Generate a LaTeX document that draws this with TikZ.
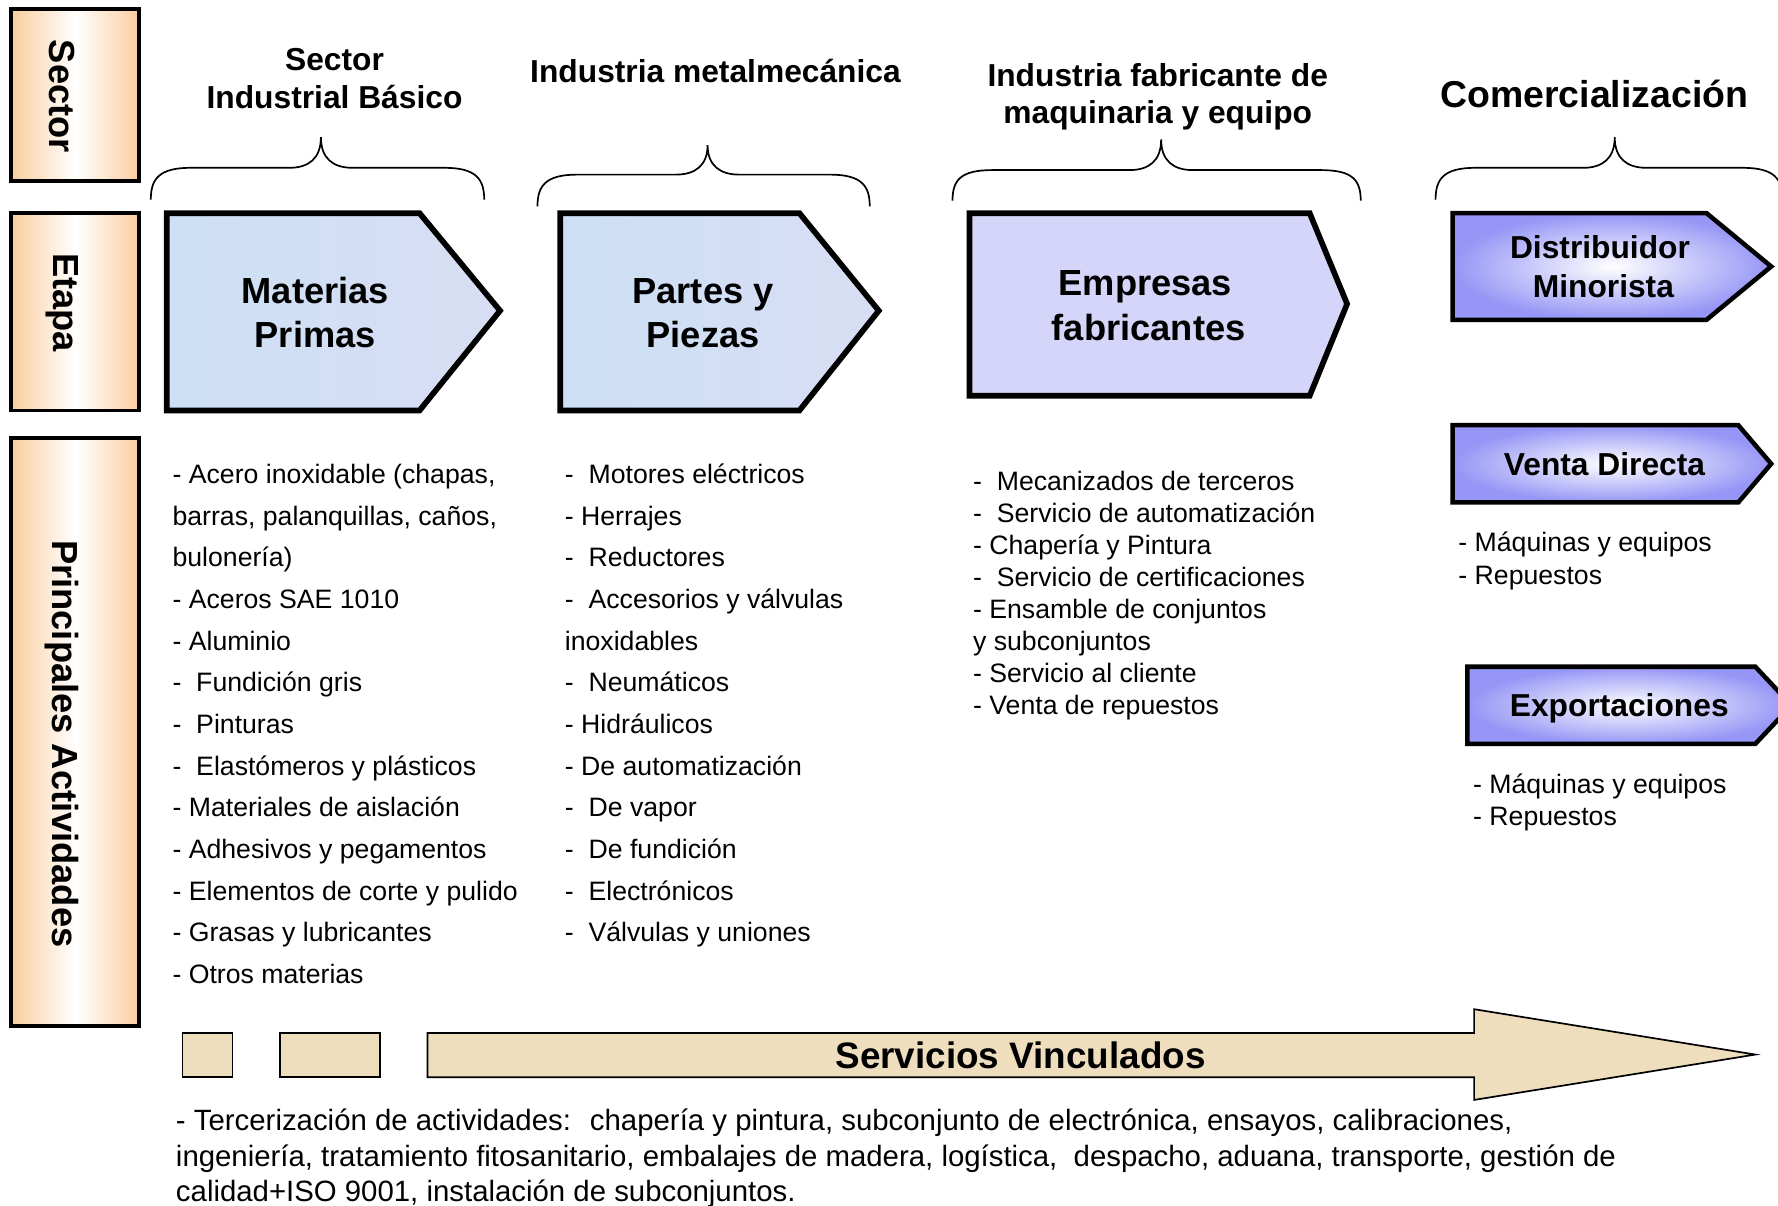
\documentclass[tikz,border=0pt]{standalone}
\usepackage{fontspec}
\setmainfont{Liberation Sans}
\definecolor{lblorange}{RGB}{250,205,158}
\definecolor{mpA}{RGB}{204,223,244}
\definecolor{mpB}{RGB}{216,222,244}
\definecolor{empl}{RGB}{213,213,250}
\definecolor{comblue}{RGB}{150,150,246}
\definecolor{tanc}{RGB}{238,222,190}
\tikzset{
  lbl/.style={draw=black, line width=3.5pt, left color=lblorange, right color=lblorange, middle color=white},
  vlab/.style={font=\fontsize{32}{38}\selectfont\bfseries, rotate=-90, inner sep=0pt},
  stage/.style={draw=black, line width=5pt, line join=miter},
  comm/.style={draw=black, line width=4pt, line join=miter, inner color=white, outer color=comblue},
  hdr/.style={font=\fontsize{28}{34}\selectfont\bfseries, anchor=base, inner sep=0pt},
  ttl/.style={font=\fontsize{32}{38}\selectfont\bfseries, anchor=base, inner sep=0pt},
  sub/.style={font=\fontsize{28}{34}\selectfont\bfseries, anchor=base, inner sep=0pt},
  body/.style={font=\fontsize{23.5}{28}\selectfont, anchor=base west, inner sep=0pt},
  foot/.style={font=\fontsize{25.9}{31}\selectfont, anchor=base west, inner sep=0pt},
  bracepath/.style={draw=black, line width=1.5pt},
  serv/.style={draw=black, line width=1.5pt, fill=tanc, line join=miter},
}
\begin{document}
\begin{tikzpicture}[x=1pt, y=-1pt]
\useasboundingbox (0,0) rectangle (1568,1063);
\clip (0,0) rectangle (1568,1063);
\fill[white] (0,0) rectangle (1568,1063);

% row labels
\draw[lbl] (10,8) rectangle (123,160);
\node[vlab] (lsector) at (55,85) {Sector};
\draw[lbl] (10,188) rectangle (123,362);
\node[vlab] (letapa) at (55,267) {Etapa};
\draw[lbl] (10,386) rectangle (123,905);
\node[vlab] (lpa) at (55,656) {Principales Actividades};

% sector headers
\node[hdr] (h1a) at (295,62) {Sector};
\node[hdr] (h1b) at (295,96) {Industrial Básico};
\node[hdr] (h2) at (631,73) {Industria metalmecánica};
\node[hdr] (h3a) at (1021,76) {Industria fabricante de};
\node[hdr] (h3b) at (1021,109) {maquinaria y equipo};
\node[font=\fontsize{33}{38}\selectfont\bfseries, anchor=base, inner sep=0pt] (h4) at (1406,95) {Comercialización};

% braces
\draw[bracepath] (133,176) .. controls (133,158) and (140,148) .. (168,148) -- (255,148) .. controls (272,148) and (283,140) .. (283,121) .. controls (283,140) and (294,148) .. (311,148) -- (392,148) .. controls (420,148) and (427,158) .. (427,176);
\draw[bracepath] (474,182) .. controls (474,164) and (481,154) .. (509,154) -- (596,154) .. controls (613,154) and (624,146) .. (624,128) .. controls (624,146) and (635,154) .. (652,154) -- (732,154) .. controls (760,154) and (767,164) .. (767,182);
\draw[bracepath] (840,177) .. controls (840,159) and (847,150) .. (875,150) -- (996,150) .. controls (1013,150) and (1024,142) .. (1024,123) .. controls (1024,142) and (1035,150) .. (1052,150) -- (1165,150) .. controls (1193,150) and (1200,159) .. (1200,177);
\draw[bracepath] (1266,176) .. controls (1266,158) and (1273,148) .. (1301,148) -- (1396,148) .. controls (1413,148) and (1424,140) .. (1424,121) .. controls (1424,140) and (1435,148) .. (1452,148) -- (1537,148) .. controls (1565,148) and (1572,158) .. (1572,176);

% stage arrows
\draw[stage, left color=mpA, right color=mpB] (147,188) -- (370,188) -- (441,274) -- (370,362) -- (147,362) -- cycle;
\node[ttl] (mp1) at (278,267.5) {Materias};
\node[ttl] (mp2) at (278,306.5) {Primas};
\draw[stage, left color=mpA, right color=mpB] (494,188) -- (705,188) -- (775,274) -- (705,362) -- (494,362) -- cycle;
\node[ttl] (pp1) at (620,267.5) {Partes y};
\node[ttl] (pp2) at (620,306.5) {Piezas};
\draw[stage, fill=empl] (855,188) -- (1155,188) -- (1188,268) -- (1155,349) -- (855,349) -- cycle;
\node[ttl] (ef1) at (1010,260.5) {Empresas};
\node[ttl] (ef2) at (1013,300.5) {fabricantes};

% commercialisation arrows
\draw[comm] (1281,188) -- (1505,188) -- (1562,235) -- (1505,282) -- (1281,282) -- cycle;
\node[sub] (dm1) at (1411,228) {Distribuidor};
\node[sub] (dm2) at (1414,262) {Minorista};
\draw[comm] (1281,375) -- (1533,375) -- (1562,409) -- (1533,443) -- (1281,443) -- cycle;
\node[sub] (vd) at (1415,419) {Venta Directa};
\draw[comm] (1294,588) -- (1548,588) -- (1580,622) -- (1548,656) -- (1294,656) -- cycle;
\node[sub] (ex) at (1428,632) {Exportaciones};

% lists
\foreach [count=\i from 0] \t in {{- Acero inoxidable (chapas,},{barras, palanquillas, caños,},{bulonería)},{- Aceros SAE 1010},{- Aluminio},{-~~Fundición gris},{-~~Pinturas},{-~~Elastómeros y plásticos},{- Materiales de aislación},{- Adhesivos y pegamentos},{- Elementos de corte y pulido},{- Grasas y lubricantes},{- Otros materias}}
  \node[body] (la\i) at (152,426.4+36.75*\i) {\t};
\foreach [count=\i from 0] \t in {{-~~Motores eléctricos},{- Herrajes},{-~~Reductores},{-~~Accesorios y válvulas},{inoxidables},{-~~Neumáticos},{- Hidráulicos},{- De automatización},{-~~De vapor},{-~~De fundición},{-~~Electrónicos},{-~~Válvulas y uniones}}
  \node[body] (lb\i) at (498,426.4+36.73*\i) {\t};
\foreach [count=\i from 0] \t in {{-~~Mecanizados de terceros},{-~~Servicio de automatización},{- Chapería y Pintura},{-~~Servicio de certificaciones},{- Ensamble de conjuntos},{y subconjuntos},{- Servicio al cliente},{- Venta de repuestos}}
  \node[body] (lc\i) at (858,432.4+28.3*\i) {\t};
\node[body] (vd1) at (1286,486.4) {- Máquinas y equipos};
\node[body] (vd2) at (1286,515.4) {- Repuestos};
\node[body] (ex1) at (1299,699.4) {- Máquinas y equipos};
\node[body] (ex2) at (1299,728.4) {- Repuestos};

% services
\draw[serv] (161,911) rectangle (205,950);
\draw[serv] (247,911) rectangle (335,950);
\draw[serv] (377,911) -- (1300,911) -- (1300,890) -- (1548,930) -- (1300,970) -- (1300,950) -- (377,950) -- cycle;
\node[font=\fontsize{32.5}{38}\selectfont\bfseries, anchor=base, inner sep=0pt] (sv) at (900,942.5) {Servicios Vinculados};
\node[foot] (bt1) at (155,997.3) {- Tercerización de actividades: ~chapería y pintura, subconjunto de electrónica, ensayos, calibraciones,};
\node[foot] (bt2) at (155,1028.3) {ingeniería, tratamiento fitosanitario, embalajes de madera, logística, ~despacho, aduana, transporte, gestión de};
\node[foot] (bt3) at (155,1059.3) {calidad+ISO 9001, instalación de subconjuntos.};
\end{tikzpicture}
\end{document}
